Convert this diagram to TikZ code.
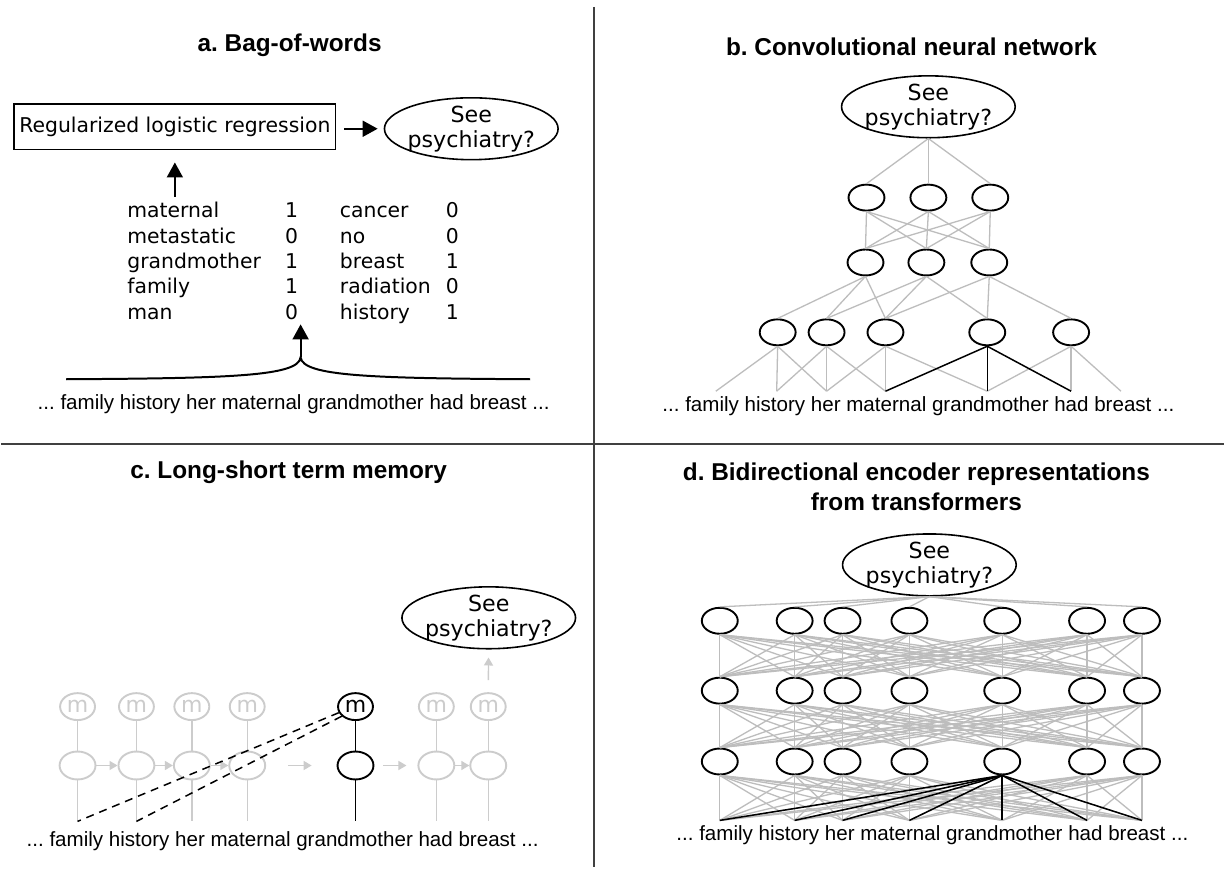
\documentclass[tikz,border=0pt]{standalone}
\usepackage{fontspec}
\setmainfont{Liberation Sans}
\newfontfamily\verd{DejaVu Sans}
\usetikzlibrary{shapes.geometric,arrows.meta}
\definecolor{lnk}{gray}{0.74}
\definecolor{faded}{gray}{0.8}
\definecolor{divider}{gray}{0.25}
\frenchspacing

\begin{document}
\begin{tikzpicture}[
		x=0.5pt, y=-0.5pt,
		heading/.style={font=\bfseries\fontsize{12.2}{15}\selectfont, align=center},
		sentence/.style={font=\fontsize{10.3}{12}\selectfont},
		answer/.style={ellipse, draw, line width=0.8pt, minimum width=87pt, minimum height=31pt,
				inner xsep=-3pt, inner ysep=-2.5pt, align=center, font=\verd\fontsize{11.1}{12.5}\selectfont},
		unit/.style={ellipse, draw, line width=0.95pt, minimum width=18pt, minimum height=13pt, inner sep=0pt},
		link/.style={draw=lnk, line width=0.65pt},
		hot/.style={draw=black, line width=0.75pt},
		bigarrow/.style={line width=0.9pt, -{Triangle[length=7.5pt,width=8pt]}},
		smallarrow/.style={draw=faded, line width=0.7pt, -{Triangle[length=4pt,width=4.5pt]}},
		bow/.style={font=\verd\fontsize{10.2}{12}\selectfont, inner sep=0pt}
	]
	\fill[white] (0,0) rectangle (1225,869);
	\draw[divider, line width=1.2pt] (594,7) -- (594,869);
	\draw[divider, line width=1.2pt] (0,445) -- (1225,445);

	% a
	\node[heading] (ta) at (289,45) {a. Bag-of-words};
	\node[draw, line width=0.8pt, minimum width=161pt, minimum height=23pt, inner xsep=0pt,
		font=\verd\fontsize{10.2}{12}\selectfont] (rlr) at (174,127) {Regularized logistic regression};
	\node[answer] (sa) at (471,129) {See\\psychiatry?};
	\draw[bigarrow, shorten <=4pt, shorten >=3pt] (rlr.east |- sa) -- (sa.west);
	\foreach \wa/\na/\wb/\nb [count=\r] in {maternal/1/cancer/0, metastatic/0/no/0,
			grandmother/1/breast/1, family/1/radiation/0, man/0/history/1}{
		\node[bow, anchor=base west] (wa\r) at (126,192.5+25.5*\r) {\wa};
		\node[bow, anchor=base] (na\r) at (291,192.5+25.5*\r) {\na};
		\node[bow, anchor=base west] (wb\r) at (339,192.5+25.5*\r) {\wb};
		\node[bow, anchor=base] (nb\r) at (452,192.5+25.5*\r) {\nb};
	}
	\coordinate (lista) at (174,197);
	\draw[bigarrow, shorten >=6pt] (lista) -- (rlr.south);
	\coordinate (peak) at (300,358);
	\coordinate (bagtip) at (300,325);
	\coordinate (bl) at (65,380);
	\coordinate (br) at (530,380);
	\draw[line width=1pt] (bl) .. controls (230,379) and (298,377) .. (peak)
		.. controls (302,377) and (370,379) .. (br);
	\draw[bigarrow] (peak) -- (bagtip);
	\node[sentence] (sena) at (293,405) {... family history her maternal grandmother had breast ...};

	% b
	\node[heading] (tb) at (912,47) {b. Convolutional neural network};
	\node[answer] (sb) at (929,107) {See\\psychiatry?};
	\foreach \x [count=\i] in {867,929,991} \node[unit] (ba\i) at (\x,198) {};
	\foreach \x [count=\i] in {866,927,990} \node[unit] (bb\i) at (\x,263) {};
	\foreach \x [count=\i] in {778,827,886,988,1072} \node[unit] (bc\i) at (\x,333) {};
	\foreach \x [count=\i from 0] in {716,777,827,886,988,1072,1122} \coordinate (bw\i) at (\x,392);
	\foreach \i in {1,2,3}{
		\draw[link] (sb.south) -- (ba\i.north);
		\foreach \j in {1,2,3} \draw[link] (ba\i.south) -- (bb\j.north);
		\foreach \d in {0,1,2}{
			\pgfmathtruncatemacro\j{\i+\d}
			\draw[link] (bb\i.south) -- (bc\j.north);
		}
	}
	\foreach \i in {1,2,3,5}
		\foreach \d in {-1,0,1}{
			\pgfmathtruncatemacro\j{\i+\d}
			\draw[link] (bc\i.south) -- (bw\j);
		}
	\foreach \j in {3,4,5} \draw[hot] (bc4.south) -- (bw\j);
	\node[sentence] (senb) at (919,407) {... family history her maternal grandmother had breast ...};

	% c
	\node[heading] (tc) at (288,473) {c. Long-short term memory};
	\node[answer] (sc) at (488.5,619) {See\\psychiatry?};
	\foreach \x/\c [count=\i] in {76.5/faded, 135.5/faded, 191/faded, 246.5/faded, 355/black, 436/faded, 488/faded}{
		\node[unit, draw=\c, text=\c, minimum width=17.5pt, minimum height=13.5pt,
			font=\verd\fontsize{11}{12}\selectfont] (m\i) at (\x,708) {m};
		\node[unit, draw=\c, minimum height=14pt] (cell\i) at (\x,767) {};
		\coordinate (cw\i) at (\x,823);
		\draw[\c, line width=0.7pt] (m\i) -- (cell\i) (cell\i) -- (cw\i);
	}
	\draw[smallarrow] (cell1) -- (cell2);
	\draw[smallarrow] (cell2) -- (cell3);
	\draw[smallarrow] (cell3) -- (cell4);
	\draw[smallarrow, shorten <=11pt, shorten >=12.5pt] (cell4) -- (cell5);
	\draw[smallarrow, shorten <=4.5pt, shorten >=5.5pt] (cell5) -- (cell6);
	\draw[smallarrow] (cell6) -- (cell7);
	\draw[smallarrow, shorten <=6pt, shorten >=4pt] (m7) -- (sc);
	\draw[hot, dash pattern=on 4pt off 3pt] (m5.200) -- (cw1);
	\draw[hot, dash pattern=on 4pt off 3pt] (m5.215) -- (cw2);
	\node[sentence] (senc) at (282,843) {... family history her maternal grandmother had breast ...};

	% d
	\node[heading] (td) at (917,488) {d. Bidirectional encoder representations\\from transformers};
	\node[answer] (sd) at (930,566) {See\\psychiatry?};
	\foreach \x [count=\i] in {720,795,843,910,1003,1088,1143}{
		\node[unit] (da\i) at (\x,622) {};
		\node[unit] (db\i) at (\x,692) {};
		\node[unit] (dc\i) at (\x,763) {};
		\coordinate (dw\i) at (\x,822);
	}
	\foreach \i in {1,...,7}{
		\draw[link] (sd.south) -- (da\i.north);
		\foreach \j in {1,...,7}{
			\draw[link] (da\i.south) -- (db\j.north);
			\draw[link] (db\i.south) -- (dc\j.north);
			\draw[link] (dc\i.south) -- (dw\j);
		}
	}
	\foreach \j in {1,...,7} \draw[hot] (dc5.south) -- (dw\j);
	\node[sentence] (send) at (933,837) {... family history her maternal grandmother had breast ...};
\end{tikzpicture}
\end{document}
